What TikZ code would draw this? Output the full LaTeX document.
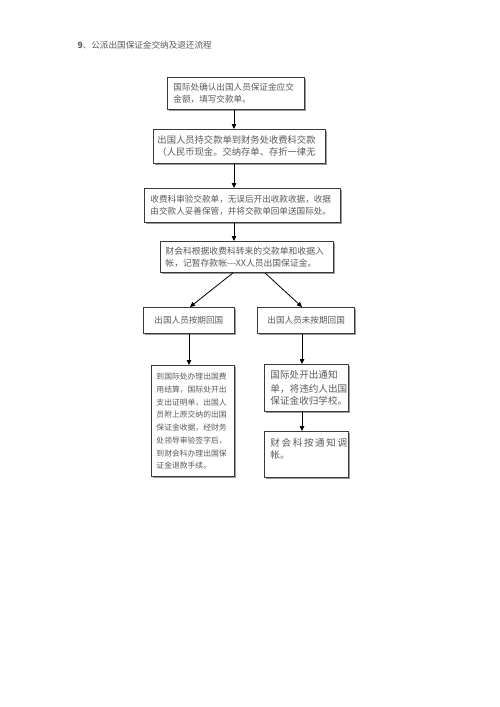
\documentclass[tikz,border=0pt]{standalone}
\usepackage{fontspec}
\usetikzlibrary{arrows.meta,shadows}
\newfontfamily\cjk{Noto Sans CJK SC}
\definecolor{boxline}{HTML}{3A3A3A}
\definecolor{graytext}{HTML}{5A5A5A}
\definecolor{shadowgray}{HTML}{9A9A9A}

\tikzset{
  flowbox/.style={draw=boxline, line width=0.9pt, fill=white, anchor=north west,
    align=left, inner xsep=5pt, inner ysep=3pt, text=graytext,
    drop shadow={shadow xshift=1.2pt, shadow yshift=-1.2pt, fill=shadowgray, opacity=1}},
  flowarrow/.style={draw=black, line width=0.8pt, -{Triangle[length=5pt,width=4.5pt]}}
}

\begin{document}
\begin{tikzpicture}[x=1pt,y=-1pt]
\useasboundingbox[fill=white] (0,0) rectangle (500,707);
\node[anchor=west, text=graytext] (title) at (74,45)
  {\cjk\fontsize{8.6}{10}\selectfont\textbf{9}、公派出国保证金交纳及退还流程};

% main column
\node[flowbox, minimum width=137, minimum height=32, text width=125] (confirm) at (167,77)
  {\cjk\fontsize{8.6}{14}\selectfont 国际处确认出国人员保证金应交\\金额，填写交款单。};
\node[flowbox, minimum width=172, minimum height=34, text width=164, inner xsep=4pt] (pay) at (153,129)
  {\cjk\fontsize{9.3}{11.5}\selectfont 出国人员持交款单到财务处收费科交款\\（人民币现金。交纳存单、存折一律无};
\node[flowbox, minimum width=196, minimum height=34, text width=184, inner xsep=6pt] (receipt) at (144,188)
  {\cjk\fontsize{8.6}{14}\selectfont 收费科审验交款单，无误后开出收款收据，收据\\由交款人妥善保管，并将交款单回单送国际处。};
\node[flowbox, minimum width=173, minimum height=31, text width=163] (account) at (160,241)
  {\cjk\fontsize{8.8}{14}\selectfont 财会科根据收费科转来的交款单和收据入\\帐，记暂存款帐---XX人员出国保证金。};

% two branches
\node[flowbox, minimum width=91, minimum height=26, text width=81] (ontime) at (143,307)
  {\cjk\fontsize{8.6}{10}\selectfont\hspace*{6pt}出国人员按期回国};
\node[flowbox, minimum width=97, minimum height=26, text width=87] (late) at (257,307)
  {\cjk\fontsize{8.6}{10}\selectfont\hspace*{5pt}出国人员未按期回国};

\node[flowbox, minimum width=83, minimum height=111, text width=73] (refund) at (151,365)
  {\cjk\fontsize{7.8}{12.8}\selectfont 到国际处办理出国费\\用结算，国际处开出\\支出证明单，出国人\\员附上原交纳的出国\\保证金收据，经财务\\处领导审验签字后，\\到财会科办理出国保\\证金退款手续。};
\node[flowbox, minimum width=84, minimum height=47, text width=72, inner xsep=6pt] (notice) at (264,364)
  {\cjk\fontsize{9.6}{14}\selectfont 国际处开出通知\\单，将违约人出国\\保证金收归学校。};
\node[flowbox, minimum width=84, minimum height=46, text width=72, inner xsep=6pt, text depth=24pt] (adjust) at (264,431)
  {\cjk\fontsize{9.6}{13}\selectfont 财\,会\,科\,按\,通\,知\,调\\帐。};

% connectors
\draw[flowarrow] (confirm.south -| 234,0) -- (pay.north -| 234,0);
\draw[flowarrow] (pay.south -| 234,0) -- (receipt.north -| 234,0);
\draw[flowarrow] (receipt.south -| 234,0) -- (account.north -| 234,0);
\draw[flowarrow] (account.south -| 233,0) -- (ontime.north -| 190,0);
\draw[flowarrow] (account.south -| 265,0) -- (late.north -| 302,0);
\draw[flowarrow] (ontime.south -| 189,0) -- (refund.north -| 189,0);
\draw[flowarrow] (late.south -| 302,0) -- (notice.north -| 302,0);
\draw[flowarrow] (notice.south -| 302,0) -- (adjust.north -| 302,0);
\end{tikzpicture}
\end{document}
